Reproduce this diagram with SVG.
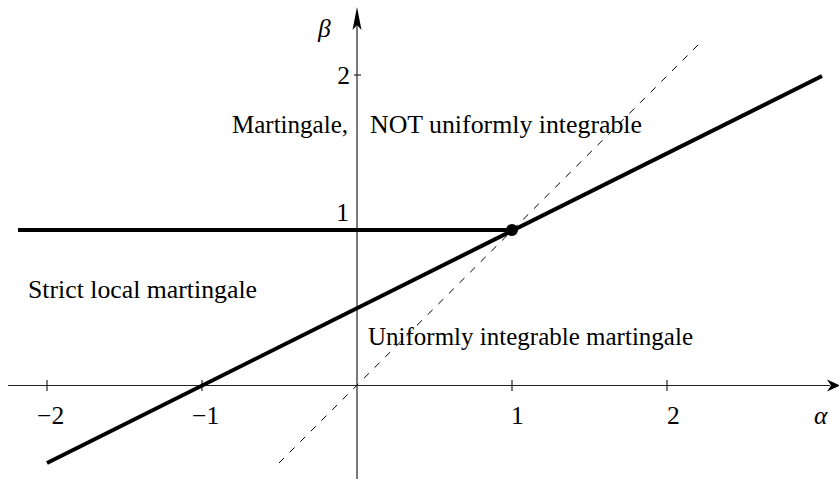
<svg xmlns="http://www.w3.org/2000/svg" width="839" height="479" viewBox="0 0 839 479">
<style>
text{font-family:'Liberation Serif','Times New Roman',serif;font-size:25.5px;fill:#000}
.ax{stroke:#222;stroke-width:1.2;fill:none}
.tk{stroke:#222;stroke-width:1.2}
.thick{stroke:#000;stroke-width:4;fill:none}
.dash{stroke:#000;stroke-width:1;stroke-dasharray:7 8;fill:none}
.it{font-style:italic}
</style>
<g id="axes">
<line class="ax" x1="8" y1="385.5" x2="830" y2="385.5"/>
<path d="M840,385.5 L827,379.5 L831,385.5 L827,391.5 Z" fill="#000"/>
<line class="ax" x1="357" y1="479" x2="357" y2="20"/>
<path d="M357,7 L352.5,30 L357,25 L361.5,30 Z" fill="#000"/>
<line class="tk" x1="47" y1="380" x2="47" y2="391"/>
<line class="tk" x1="202" y1="380" x2="202" y2="391"/>
<line class="tk" x1="512" y1="380" x2="512" y2="391"/>
<line class="tk" x1="667" y1="380" x2="667" y2="391"/>
<line class="tk" x1="354" y1="75" x2="361" y2="75"/>
<text x="37" y="424">−2</text>
<text x="192" y="424">−1</text>
<text x="511" y="424">1</text>
<text x="667" y="424">2</text>
<text x="814" y="424" class="it">α</text>
<text x="350" y="84" text-anchor="end">2</text>
<text x="349" y="221" text-anchor="end">1</text>
<text x="318" y="37" class="it">β</text>
</g>
<g id="connectors">
<line class="dash" x1="279" y1="463" x2="702" y2="41"/>
<line class="thick" x1="47" y1="463" x2="822" y2="76"/>
<line class="thick" x1="18" y1="230" x2="512" y2="230"/>
<circle cx="512" cy="230" r="6" fill="#000"/>
</g>
<g id="region-martingale">
<text x="232" y="133" textLength="116" lengthAdjust="spacingAndGlyphs">Martingale,</text>
<text x="370" y="133" textLength="272" lengthAdjust="spacingAndGlyphs">NOT uniformly integrable</text>
</g>
<g id="region-strict">
<text x="28" y="298" textLength="229" lengthAdjust="spacingAndGlyphs">Strict local martingale</text>
</g>
<g id="region-ui">
<text x="368" y="345" textLength="325" lengthAdjust="spacingAndGlyphs">Uniformly integrable martingale</text>
</g>
</svg>
